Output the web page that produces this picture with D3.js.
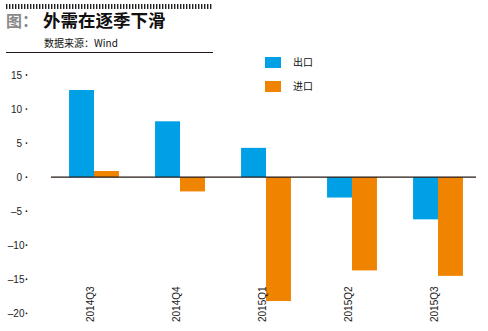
<!DOCTYPE html>
<html><head><meta charset="utf-8">
<script src="https://cdn.jsdelivr.net/npm/d3@7"></script>
<style>body{margin:0;background:#fff}svg{display:block}</style>
</head><body>
<svg id="c" width="488" height="331"></svg>
<script>
const categories = ["2014Q3","2014Q4","2015Q1","2015Q2","2015Q3"];
const exportsVals = [12.8, 8.2, 4.3, -3.0, -6.2];
const importsVals = [0.9, -2.1, -18.2, -13.7, -14.5];
const seriesNames = ["出口","进口"];
const yTicks = [15,10,5,0,-5,-10,-15,-20];
const titleText = "外需在逐季下滑";
const sourceText = "数据来源：Wind";

const colors = ["#00A0E6","#F08300"];
const svg = d3.select("#c");
const font = "'Liberation Sans', Arial, 'Noto Sans CJK SC', sans-serif";

// header stripes
const stripes = d3.range(6, 213, 3);
svg.append("g").selectAll("rect").data(stripes).join("rect")
  .attr("x", d => d).attr("y", 4).attr("width", 1.4).attr("height", 5).attr("fill", "#222");
svg.append("text").attr("x", 6).attr("y", 27).attr("font-family", "'Noto Sans CJK SC', sans-serif")
  .attr("font-weight", "bold").attr("font-size", 16).attr("fill", "#8a8a8a").text("图：");
svg.append("text").attr("x", 43).attr("y", 27).attr("font-family", "'Noto Sans CJK SC', sans-serif")
  .attr("font-weight", "bold").attr("font-size", 17.5).attr("fill", "#111").text(titleText);
svg.append("text").attr("x", 44).attr("y", 47).attr("font-family", "'Noto Sans CJK SC', Arial, sans-serif")
  .attr("font-size", 10).attr("fill", "#111").text(sourceText);
svg.append("line").attr("x1", 6).attr("x2", 213).attr("y1", 52.5).attr("y2", 52.5)
  .attr("stroke", "#231815").attr("stroke-width", 1.2);

const y = d3.scaleLinear().domain([-20, 15]).range([313.3, 75]);
const x0 = d3.scaleBand().domain(categories).range([51, 481]).paddingInner(0.42).paddingOuter(0.21);
const x1 = d3.scaleBand().domain(seriesNames).range([0, x0.bandwidth()]);

// y axis ticks
const yg = svg.append("g");
yg.selectAll("text").data(yTicks).join("text")
  .attr("x", d => d <= -10 ? 24.5 : 22).attr("y", d => y(d)).attr("dy", "0.35em").attr("text-anchor", "end")
  .attr("font-family", font).attr("font-size", 10).attr("fill", "#222")
  .text(d => d < 0 ? "\u2013" + Math.abs(d) : d);
yg.selectAll("circle").data(yTicks).join("circle")
  .attr("cx", 26.5).attr("cy", d => y(d)).attr("r", 0.9).attr("fill", "#222");

const data = categories.map((c, i) => ({c, vals: [exportsVals[i], importsVals[i]]}));
const groups = svg.append("g").selectAll("g").data(data).join("g")
  .attr("transform", d => `translate(${x0(d.c)},0)`);
groups.selectAll("rect").data(d => d.vals.map((v, j) => ({v, s: seriesNames[j], j})))
  .join("rect")
  .attr("x", d => x1(d.s)).attr("width", x1.bandwidth())
  .attr("y", d => y(Math.max(0, d.v))).attr("height", d => Math.abs(y(d.v) - y(0)))
  .attr("fill", d => colors[d.j]);

// zero line
svg.append("line").attr("x1", 51).attr("x2", 476).attr("y1", y(0)).attr("y2", y(0))
  .attr("stroke", "#231815").attr("stroke-width", 1.2);

// x labels
svg.append("g").selectAll("text").data(categories).join("text")
  .attr("transform", d => `translate(${x0(d) + x0.bandwidth()/2 - 4},322) rotate(-90)`)
  .attr("text-anchor", "start").attr("dy", "0.35em")
  .attr("font-family", font).attr("font-size", 10).attr("fill", "#222").text(d => d);

// legend
const lg = svg.append("g").selectAll("g").data(seriesNames).join("g")
  .attr("transform", (d, i) => `translate(265,${57 + i * 24})`);
lg.append("rect").attr("width", 16).attr("height", 11).attr("fill", (d, i) => colors[i]);
lg.append("text").attr("x", 28).attr("y", 5.5).attr("dy", "0.35em")
  .attr("font-family", "'Noto Sans CJK SC', sans-serif").attr("font-size", 10).attr("fill", "#111").text(d => d);
</script>
</body></html>
